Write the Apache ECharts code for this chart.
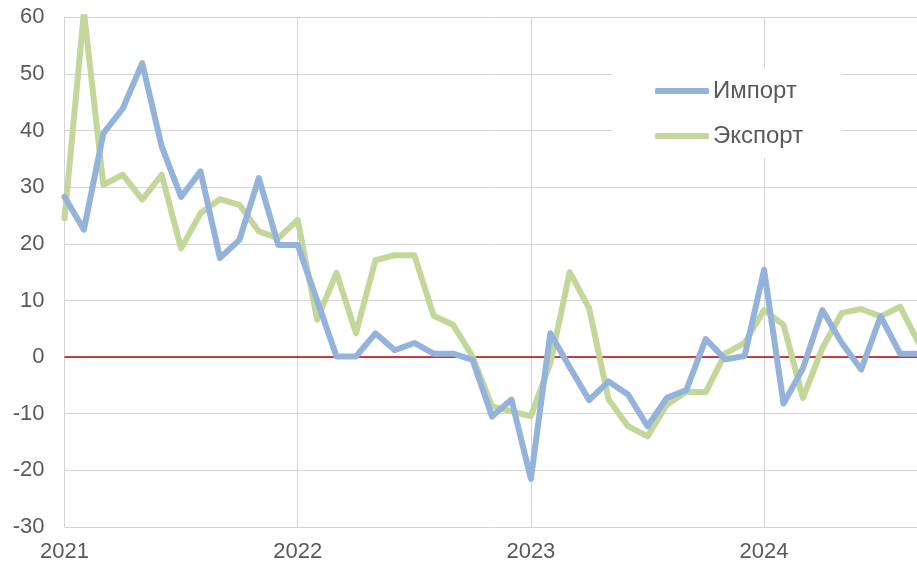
<!DOCTYPE html>
<html>
<head>
<meta charset="utf-8">
<script src="https://cdn.jsdelivr.net/npm/echarts@6/dist/echarts.min.js"></script>
<style>
html,body{margin:0;padding:0;background:#fff;}
#chart{width:917px;height:565px;}
</style>
</head>
<body>
<div id="chart"></div>
<script>
// Month index 0 = Jan 2021
const months = [0,1,2,3,4,5,6,7,8,9,10,11,12,13,14,15,16,17,18,19,20,21,22,23,24,25,26,27,28,29,30,31,32,33,34,35,36,37,38,39,40,41,42,43,44];
const importVals = [28.3,22.5,39.5,43.9,51.9,37.2,28.3,32.8,17.5,20.7,31.6,19.8,
                    19.8,10.0,0.1,0.1,4.2,1.2,2.5,0.6,0.6,-0.5,-10.5,-7.5,
                    -21.5,4.2,-1.8,-7.6,-4.3,-6.6,-12.2,-7.2,-5.8,3.2,-0.4,0.2,
                    15.4,-8.2,-2.0,8.3,2.5,-2.2,7.2,0.6,0.6];
const exportVals = [24.5,61.0,30.4,32.2,27.8,32.2,19.2,25.4,27.9,26.9,22.2,21.0,
                    24.2,6.6,14.9,4.2,17.1,18.0,18.0,7.3,5.7,0.1,-8.7,-9.6,
                    -10.4,-1.1,15.0,8.6,-7.5,-12.2,-14.0,-8.4,-6.1,-6.2,0.6,2.5,
                    8.3,5.7,-7.2,1.6,7.8,8.5,7.2,8.9,2.2];
const seriesNames = ['Импорт','Экспорт'];
const startYear = 2021;

const font = "'Liberation Sans', Arial, sans-serif";
const gridColor = '#D4D4D4';
const chart = echarts.init(document.getElementById('chart'));
chart.setOption({
  animation:false,
  backgroundColor:'#fff',
  grid:{left:64.5,top:17.3,bottom:38,right:0,containLabel:false},
  legend:{
    orient:'vertical', left:612, top:69,
    backgroundColor:'#fff',
    padding:[10,38,10,43],
    itemGap:21, itemWidth:54, itemHeight:6,
    icon:'roundRect',
    textStyle:{fontFamily:font,fontSize:24,color:'#595959',padding:[0,0,0,-1]},
    data:seriesNames
  },
  xAxis:{
    type:'value', min:0, max:43.87, interval:12,
    axisLine:{show:true,lineStyle:{color:gridColor,width:1}},
    axisTick:{show:false},
    splitLine:{show:true,showMaxLine:false,lineStyle:{color:gridColor,width:1}},
    axisLabel:{fontFamily:font,fontSize:22,color:'#595959',margin:14,showMaxLabel:false,
      formatter:v=>String(startYear+v/12)}
  },
  yAxis:{
    type:'value', min:-30, max:60, interval:10,
    axisLine:{show:true,lineStyle:{color:gridColor,width:1}},
    axisTick:{show:false},
    splitLine:{show:true,lineStyle:{color:gridColor,width:1}},
    axisLabel:{fontFamily:font,fontSize:22,color:'#595959',margin:20}
  },
  series:[
    {
      name:seriesNames[0], type:'line', z:3, clip:true,
      data:months.map((m,i)=>[m,importVals[i]]),
      showSymbol:false, symbol:'none',
      lineStyle:{color:'#93B3DB',width:6,join:'round',cap:'round'},
      itemStyle:{color:'#93B3DB'},
      markLine:{silent:true,symbol:'none',z:1,label:{show:false},
        lineStyle:{color:'#C00000',width:1.5,type:'solid'},
        data:[{yAxis:0}]}
    },
    {
      name:seriesNames[1], type:'line', z:2, clip:true,
      data:months.map((m,i)=>[m,exportVals[i]]),
      showSymbol:false, symbol:'none',
      lineStyle:{color:'#C4D79B',width:6,join:'round',cap:'round'},
      itemStyle:{color:'#C4D79B'}
    }
  ]
});
</script>
</body>
</html>
